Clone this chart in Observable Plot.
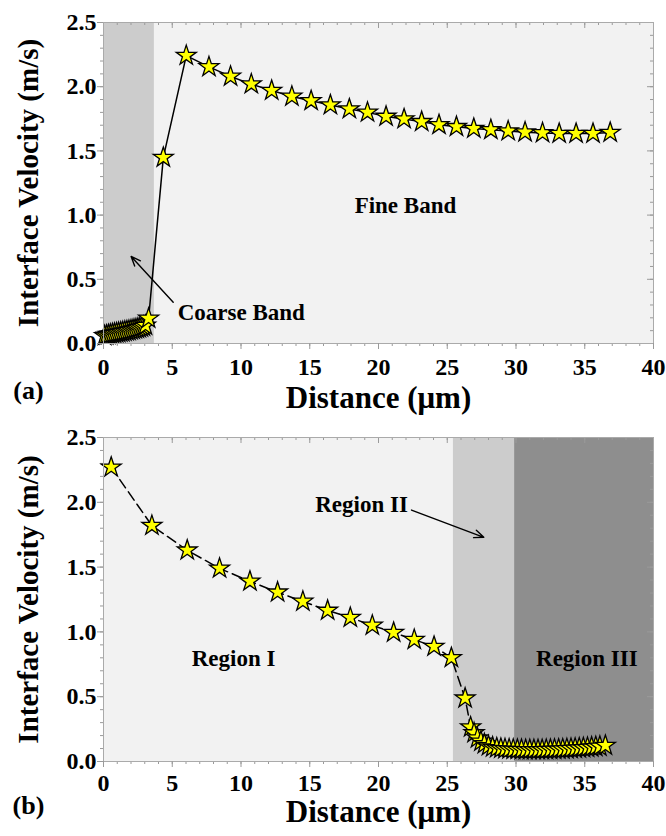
<!DOCTYPE html>
<html><head><meta charset="utf-8">
<script src="https://cdn.jsdelivr.net/npm/d3@7"></script>
<script src="https://cdn.jsdelivr.net/npm/@observablehq/plot@0.6"></script>
<style>
html,body{margin:0;padding:0;background:#fff;overflow:hidden;}
#chart-a,#chart-b{width:666px;height:418px;}
svg text{font-family:'Liberation Serif','Times New Roman',serif !important;font-weight:bold;font-variant:normal !important;}
</style></head><body>
<div id="chart-a"></div><div id="chart-b"></div>
<script>
// ---- data ----
const xTickValues = [0, 5, 10, 15, 20, 25, 30, 35, 40];
const yTickValues = [0, 0.5, 1.0, 1.5, 2.0, 2.5];
const xDomain = [0, 40];
const yDomain = [0, 2.5];

const xLabel = "Distance (μm)";
const yLabel = "Interface Velocity (m/s)";

// panel (a)
const distanceA = [0.08, 0.22, 0.36, 0.5, 0.65, 0.8, 0.95, 1.1, 1.25, 1.4, 1.55, 1.7, 1.85, 2.0, 2.15, 2.3, 2.45, 2.6, 2.75, 2.9, 3.05, 3.28,
  4.35, 6.02, 7.67, 9.24, 10.75, 12.23, 13.7, 15.1, 16.5, 17.88, 19.2, 20.55, 21.86, 23.14, 24.4, 25.67, 26.93, 28.17, 29.43, 30.66, 31.93, 33.14, 34.37, 35.6, 36.85];
const velocityA = [0.06, 0.064, 0.068, 0.071, 0.075, 0.078, 0.081, 0.084, 0.087, 0.09, 0.094, 0.097, 0.1, 0.104, 0.108, 0.112, 0.116, 0.121, 0.126, 0.132, 0.14, 0.195,
  1.448, 2.242, 2.154, 2.08, 2.02, 1.97, 1.924, 1.89, 1.857, 1.826, 1.80, 1.768, 1.748, 1.727, 1.703, 1.688, 1.674, 1.664, 1.654, 1.646, 1.64, 1.635, 1.635, 1.635, 1.643];
const bandsA = [{start: 0, end: 3.7, shade: "#cccccc"}];
const textsA = [
  {text: "Fine Band", x: 21.96, y: 1.075, anchor: "middle"},
  {text: "Coarse Band", x: 5.4, y: 0.24, anchor: "start"}
];
const arrowsA = [{x1: 5.07, y1: 0.322, x2: 2.01, y2: 0.678}];

// panel (b)
const distanceB = [0.56, 3.52, 6.09, 8.44, 10.65, 12.66, 14.5, 16.3, 17.95, 19.55, 21.1, 22.6, 24.04, 25.3, 26.3, 26.7,
  26.95, 27.2, 27.45, 27.7, 28.0, 28.3, 28.6, 28.9, 29.2, 29.5, 29.8, 30.1, 30.4, 30.7, 31.0, 31.3, 31.6, 31.9, 32.2, 32.5, 32.8, 33.1, 33.4, 33.7, 34.0, 34.3, 34.6, 34.9, 35.2, 35.5, 35.8, 36.1, 36.5];
const velocityB = [2.27, 1.82, 1.63, 1.49, 1.39, 1.306, 1.235, 1.165, 1.11, 1.05, 0.995, 0.94, 0.887, 0.80, 0.488, 0.265,
  0.22, 0.18, 0.155, 0.135, 0.12, 0.11, 0.104, 0.1, 0.097, 0.095, 0.093, 0.092, 0.091, 0.09, 0.09, 0.09, 0.09, 0.09, 0.091, 0.092, 0.093, 0.094, 0.095, 0.097, 0.099, 0.101, 0.103, 0.105, 0.107, 0.11, 0.113, 0.116, 0.123];
const bandsB = [{start: 25.45, end: 29.9, shade: "#cccccc"}, {start: 29.9, end: 40, shade: "#8e8e8e"}];
const textsB = [
  {text: "Region I", x: 9.46, y: 0.795, anchor: "middle"},
  {text: "Region II", x: 15.4, y: 1.98, anchor: "start"},
  {text: "Region III", x: 35.15, y: 0.795, anchor: "middle"}
];
const arrowsB = [{x1: 22.4, y1: 1.94, x2: 27.66, y2: 1.73}];

// ---- drawing ----
const xMinor = d3.range(0, 41, 1);
const yMinor = d3.range(0, 26, 1).map(i => i / 10);
const serif = "'Liberation Serif', 'Times New Roman', serif";

function panel({distance, velocity, dash, bands, texts, arrows, tag, marginTop, tickPad, titleDy, tagDy}) {
  const width = 666, height = 418, marginLeft = 103, marginRight = 13, marginBottom = 75;
  const W = width - marginLeft - marginRight;
  const H = height - marginTop - marginBottom;
  const pts = distance.map((d, i) => ({x: d, y: velocity[i]}));
  const tickColor = "#9a9a9a";
  const font = {fontFamily: serif, fontWeight: "bold", fill: "black"};
  const marks = [
    Plot.frame({fill: "#f2f2f2", stroke: null}),
    ...bands.map(b => Plot.rect([b], {x1: "start", x2: "end", y1: () => yDomain[0], y2: () => yDomain[1], fill: b.shade})),
    // minor / mirrored ticks
    Plot.ruleX(xMinor, {x: d => d, insetTop: H, insetBottom: -3, stroke: tickColor}),
    Plot.ruleX(xMinor, {x: d => d, insetBottom: H - 3, stroke: tickColor}),
    Plot.ruleX(xTickValues, {x: d => d, insetBottom: H - 6, stroke: tickColor}),
    Plot.ruleY(yMinor, {y: d => d, insetLeft: -3, insetRight: W, stroke: tickColor}),
    Plot.ruleY(yMinor, {y: d => d, insetLeft: W - 3, stroke: tickColor}),
    Plot.ruleY(yTickValues, {y: d => d, insetLeft: W - 6, stroke: tickColor}),
    Plot.line(pts, {x: "x", y: "y", stroke: "black", strokeWidth: 1.5, strokeDasharray: dash}),
    Plot.dot(pts, {x: "x", y: "y", symbol: "star", r: 6.3, fill: "#ffff00", stroke: "black", strokeWidth: 1.3}),
    Plot.arrow(arrows, {x1: "x1", y1: "y1", x2: "x2", y2: "y2", stroke: "black", strokeWidth: 1.4, headLength: 11, headAngle: 45}),
    ...texts.map(t => Plot.text([t], {x: "x", y: "y", text: "text", textAnchor: t.anchor, fontSize: 23, ...font})),
    Plot.frame({stroke: "#aaaaaa"}),
    Plot.axisX({ticks: xTickValues, tickSize: 6, tickPadding: tickPad, stroke: tickColor, tickFormat: d => `${d}`, label: null, fontSize: 24, fontVariant: "normal", ...font}),
    Plot.axisY({ticks: yTickValues, tickSize: 6, tickPadding: 1, stroke: tickColor, tickFormat: d3.format(".1f"), label: null, fontSize: 24, fontVariant: "normal", ...font}),
    Plot.text([xLabel], {frameAnchor: "bottom", dy: titleDy, text: d => d, textAnchor: "middle", fontSize: 31, ...font}),
    Plot.text([yLabel], {frameAnchor: "left", dx: -75, rotate: -90, text: d => d, textAnchor: "middle", fontSize: 29, ...font}),
    Plot.text([tag], {frameAnchor: "bottom-left", dx: -75, dy: tagDy, text: d => d, textAnchor: "middle", fontSize: 26, ...font})
  ];
  return Plot.plot({
    width, height, marginLeft, marginRight, marginTop, marginBottom,
    x: {domain: xDomain},
    y: {domain: yDomain},
    style: {fontFamily: serif, fontWeight: "bold", fontSize: "22px", background: "white", color: "black", overflow: "visible"},
    marks
  });
}

document.getElementById("chart-a").append(panel({
  distance: distanceA, velocity: velocityA, dash: null, bands: bandsA, texts: textsA, arrows: arrowsA,
  tag: "(a)", marginTop: 22, tickPad: 8, titleDy: 64, tagDy: 55
}));
document.getElementById("chart-b").append(panel({
  distance: distanceB, velocity: velocityB, dash: "10,5", bands: bandsB, texts: textsB, arrows: arrowsB,
  tag: "(b)", marginTop: 19, tickPad: 6, titleDy: 60, tagDy: 52
}));
</script></body></html>
